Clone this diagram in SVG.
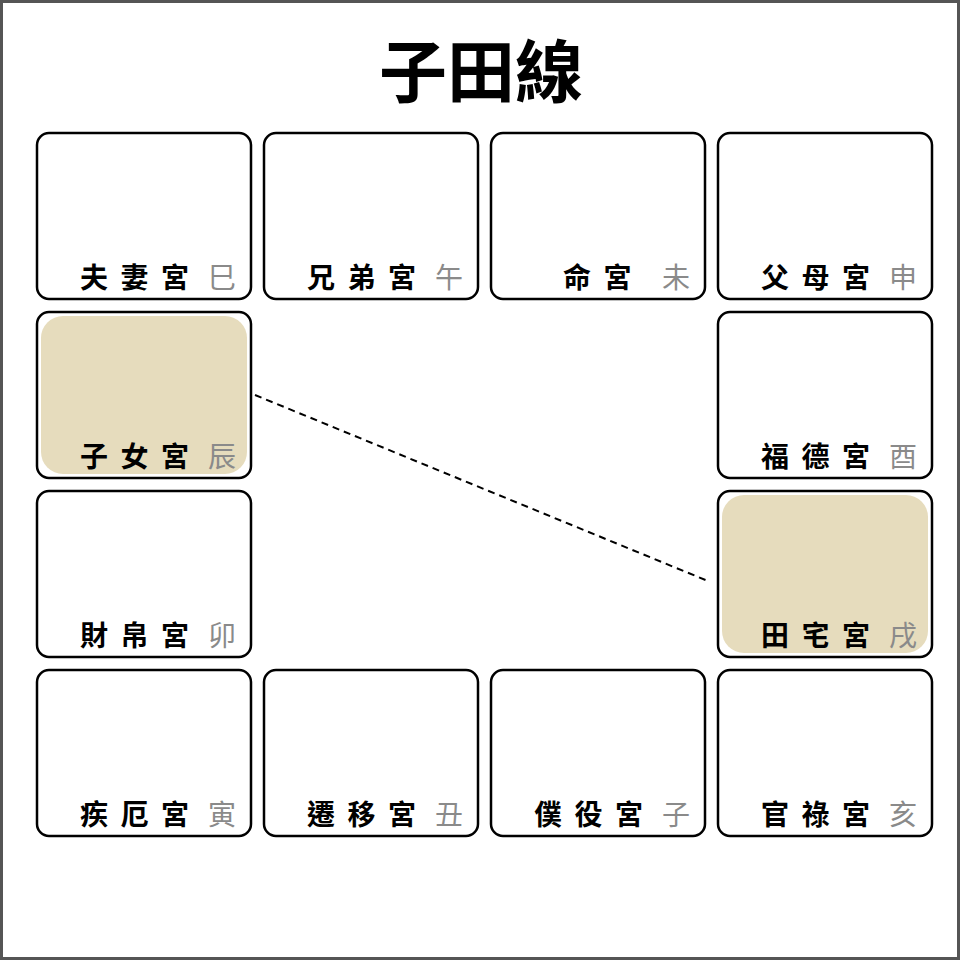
<svg xmlns="http://www.w3.org/2000/svg" width="960" height="960" viewBox="0 0 960 960">
<style>
.b{fill:#fff;stroke:#000;stroke-width:2.5}
.h{fill:#e6dcbd}
.n{font-family:"Noto Sans CJK TC","Noto Sans CJK SC",sans-serif;font-weight:700;font-size:28px;fill:#000;letter-spacing:12.5px}
.z{font-family:"Noto Sans CJK TC","Noto Sans CJK SC",sans-serif;font-size:28px;fill:#8a8a8a}
.t{font-family:"Noto Sans CJK TC","Noto Sans CJK SC",sans-serif;font-weight:700;font-size:68px;fill:#000}
</style>
<rect x="1.5" y="1.5" width="957" height="957" fill="#fff" stroke="#555" stroke-width="3"/>
<text class="t" x="481" y="97" text-anchor="middle">子田線</text>
<g id="n1"><rect class="b" x="37" y="133" width="214" height="166" rx="12"/><text class="n" x="80" y="288">夫妻宮</text><text class="z" x="208" y="288">巳</text></g>
<g id="n2"><rect class="b" x="264" y="133" width="214" height="166" rx="12"/><text class="n" x="307" y="288">兄弟宮</text><text class="z" x="435" y="288">午</text></g>
<g id="n3"><rect class="b" x="491" y="133" width="214" height="166" rx="12"/><text class="n" x="563" y="288">命宮</text><text class="z" x="662" y="288">未</text></g>
<g id="n4"><rect class="b" x="718" y="133" width="214" height="166" rx="12"/><text class="n" x="761" y="288">父母宮</text><text class="z" x="889" y="288">申</text></g>
<g id="n5"><rect class="b" x="37" y="312" width="214" height="166" rx="12"/><rect class="h" x="41" y="316" width="206" height="158" rx="22"/><text class="n" x="80" y="467">子女宮</text><text class="z" x="208" y="467">辰</text></g>
<g id="n6"><rect class="b" x="718" y="312" width="214" height="166" rx="12"/><text class="n" x="761" y="467">福德宮</text><text class="z" x="889" y="467">酉</text></g>
<g id="n7"><rect class="b" x="37" y="491" width="214" height="166" rx="12"/><text class="n" x="80" y="646">財帛宮</text><text class="z" x="208" y="646">卯</text></g>
<g id="n8"><rect class="b" x="718" y="491" width="214" height="166" rx="12"/><rect class="h" x="722" y="495" width="206" height="158" rx="22"/><text class="n" x="761" y="646">田宅宮</text><text class="z" x="889" y="646">戌</text></g>
<g id="n9"><rect class="b" x="37" y="670" width="214" height="166" rx="12"/><text class="n" x="80" y="825">疾厄宮</text><text class="z" x="208" y="825">寅</text></g>
<g id="n10"><rect class="b" x="264" y="670" width="214" height="166" rx="12"/><text class="n" x="307" y="825">遷移宮</text><text class="z" x="435" y="825">丑</text></g>
<g id="n11"><rect class="b" x="491" y="670" width="214" height="166" rx="12"/><text class="n" x="534" y="825">僕役宮</text><text class="z" x="662" y="825">子</text></g>
<g id="n12"><rect class="b" x="718" y="670" width="214" height="166" rx="12"/><text class="n" x="761" y="825">官祿宮</text><text class="z" x="889" y="825">亥</text></g>
<g id="connectors"><line x1="255" y1="395" x2="708" y2="581" stroke="#000" stroke-width="2" stroke-dasharray="7,5"/></g>
</svg>
